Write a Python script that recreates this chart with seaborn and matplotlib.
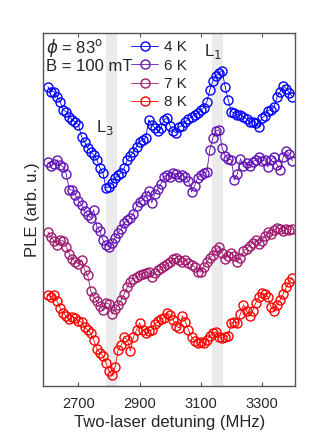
import numpy as np
import pandas as pd
import matplotlib
matplotlib.use("Agg")
import matplotlib.pyplot as plt
import seaborn as sns

# detuning axis (MHz), 10 MHz steps
detuning = np.arange(2600, 3401, 10)

# PLE traces (arb. u., offset for clarity)
ple_4K = [87, 92, 92, 97, 102, 110, 112, 117, 120, 122, 125, 137, 142, 148, 152, 155, 160, 168, 173, 188,
          187, 183, 178, 175, 173, 168, 160, 156, 152, 147, 142, 140, 138, 120, 125, 128, 131, 128, 120, 118,
          126, 131, 133, 127, 126, 122, 119, 117, 115, 113, 110, 108, 102, 90, 81, 76, 73, 71, 87, 100,
          112, 113, 115, 115, 117, 119, 122, 122, 123, 127, 118, 116, 111, 110, 107, 97, 92, 86, 89, 93, 97]
ple_6K = [162, 166, 164, 160, 165, 167, 174, 190, 190, 195, 201, 205, 211, 215, 218, 210, 227, 231, 240, 245,
          247, 243, 238, 233, 229, 223, 220, 218, 214, 206, 202, 200, 196, 191, 203, 194, 189, 184, 177, 175,
          177, 173, 174, 177, 175, 177, 181, 192, 186, 178, 175, 173, 172, 150, 138, 131, 130, 148, 156, 159,
          160, 180, 174, 159, 166, 163, 166, 162, 160, 157, 161, 160, 167, 160, 157, 165, 170, 157, 151, 154, 161]
ple_7K = [232, 237, 241, 245, 240, 241, 247, 254, 259, 262, 264, 260, 270, 275, 291, 297, 301, 306, 310, 303,
          304, 314, 309, 305, 300, 294, 287, 282, 279, 277, 275, 274, 273, 272, 277, 273, 270, 268, 266, 264,
          262, 259, 258, 260, 262, 260, 263, 265, 267, 272, 272, 267, 262, 258, 255, 250, 247, 253, 259, 256,
          253, 256, 262, 258, 251, 249, 246, 243, 240, 244, 241, 236, 232, 234, 230, 228, 229, 231, 229, 230, 229]
ple_8K = [295, 297, 295, 301, 308, 313, 316, 319, 317, 318, 321, 322, 327, 330, 333, 340, 349, 353, 356, 363,
          371, 375, 367, 350, 345, 337, 340, 351, 337, 330, 323, 330, 333, 331, 330, 324, 321, 319, 318, 313,
          315, 320, 326, 328, 316, 322, 330, 337, 341, 343, 342, 343, 340, 336, 333, 332, 337, 338, 337, 336,
          323, 322, 323, 314, 305, 311, 316, 311, 303, 297, 293, 294, 297, 307, 311, 305, 300, 294, 287, 282, 278]

temps = ['4 K', '6 K', '7 K', '8 K']
colors = ['#0000ff', '#6414b4', '#a01a6e', '#ff0000']
traces = [ple_4K, ple_6K, ple_7K, ple_8K]

# transition positions (shaded)
bands = [(2790, 2825), (3137, 3172)]

sns.set_style('ticks')
plt.rcParams['font.family'] = ['Liberation Sans', 'DejaVu Sans']

fig = plt.figure(figsize=(3.27, 4.37), dpi=100)
ax = fig.add_axes([0.1315, 0.1167, 0.772, 0.8085])

for lo, hi in bands:
    ax.axvspan(lo, hi, color='#ebebeb', lw=0, zorder=0)

for t, c, tr in zip(temps, colors, traces):
    # y axis points down in pixel reading, flip so up = brighter
    df = pd.DataFrame({'det': detuning, 'ple': 386 - np.array(tr)})
    sns.lineplot(data=df, x='det', y='ple', ax=ax, color=c, lw=0.6, marker='o', ms=6.5,
                 markerfacecolor='none', markeredgecolor=c, markeredgewidth=1.0, label=t)

ax.set_xlim(2584, 3410)
ax.set_ylim(0, 353)
ax.set_xticks([2700, 2900, 3100, 3300])
ax.set_yticks([])
ax.tick_params(axis='x', direction='in', top=True, length=3, width=0.8, color='#555555', labelsize=10.5, pad=8)
for s in ax.spines.values():
    s.set_color('#555555')
    s.set_linewidth(1.0)
ax.set_xlabel('Two-laser detuning (MHz)', fontsize=12, labelpad=3)
ax.set_ylabel('PLE (arb. u.)', fontsize=12, labelpad=2)

ax.legend(loc='upper left', bbox_to_anchor=(0.35, 0.978), frameon=False, fontsize=11,
          handlelength=1.75, handletextpad=0.4, labelspacing=0.28, borderpad=0, borderaxespad=0)

ax.text(0.012, 0.956, r'$\phi$ = 83$^{\rm o}$', transform=ax.transAxes, fontsize=12, va='center')
ax.text(0.012, 0.904, 'B = 100 mT', transform=ax.transAxes, fontsize=12, va='center')
ax.text(3141, 334, r'L$_1$', fontsize=12, ha='center', va='center')
ax.text(2787, 258, r'L$_3$', fontsize=12, ha='center', va='center')

fig.savefig('out.png', dpi=100)
